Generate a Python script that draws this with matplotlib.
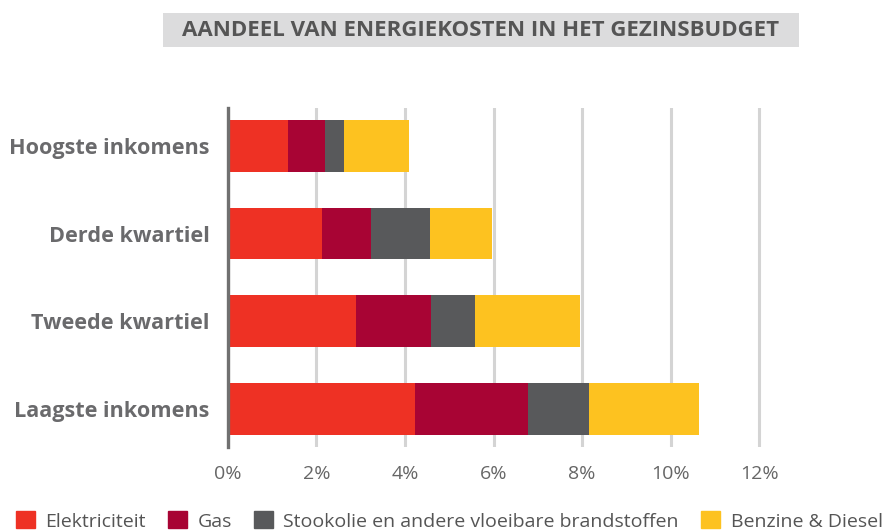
"""Aandeel van energiekosten in het gezinsbudget - stacked horizontal bars."""
import matplotlib
matplotlib.use("Agg")
import matplotlib.pyplot as plt
import matplotlib.patches as mpatches
import numpy as np

plt.rcParams["font.family"] = ["Open Sans", "DejaVu Sans"]

# ── data (share of household budget, %) ──────────────────────────────────────
categories = ["Hoogste inkomens", "Derde kwartiel", "Tweede kwartiel", "Laagste inkomens"]
elektriciteit = [1.36, 2.13, 2.90, 4.23]
gas = [0.83, 1.11, 1.68, 2.55]
stookolie = [0.43, 1.33, 1.00, 1.38]
benzine = [1.48, 1.40, 2.37, 2.48]

series = [
    ("Elektriciteit", elektriciteit, "#EE3124"),
    ("Gas", gas, "#A80434"),
    ("Stookolie en andere vloeibare brandstoffen", stookolie, "#58595B"),
    ("Benzine & Diesel", benzine, "#FDC220"),
]
xticks = [0, 2, 4, 6, 8, 10, 12]

fig = plt.figure(figsize=(8.9, 5.32), dpi=100)
ax = fig.add_axes([0.256, 0.160, 0.612, 0.637])

y = np.arange(len(categories))
left = np.zeros(len(categories))
for name, vals, color in series:
    ax.barh(y, vals, height=0.59, left=left, color=color, label=name,
            linewidth=0, zorder=3)
    left += np.array(vals)

ax.set_ylim(3.43, -0.43)
ax.set_xlim(0, 12.3)
ax.set_yticks(y)
ax.set_yticklabels(categories, fontsize=15.6, fontweight="bold", color="#6a6a6c")
ax.set_xticks(xticks)
ax.set_xticklabels([f"{t}%" for t in xticks], fontsize=14, color="#666666")
ax.tick_params(length=0)
ax.tick_params(axis="x", pad=13)
ax.tick_params(axis="y", pad=13)

ax.grid(axis="x", color="#d4d4d4", linewidth=2.2, zorder=1)
for s in ["top", "right", "bottom"]:
    ax.spines[s].set_visible(False)
ax.spines["left"].set_color("#707070")
ax.spines["left"].set_linewidth(2.4)
ax.spines["left"].set_zorder(4)

# ── title in grey box ────────────────────────────────────────────────────────
W, H = 890, 532
fig.patches.append(mpatches.Rectangle((163 / W, 1 - 47 / H), 636 / W, 34 / H,
                                      transform=fig.transFigure,
                                      facecolor="#dcdcdd", edgecolor="none"))
fig.text(481 / W, 1 - 30 / H, "AANDEEL VAN ENERGIEKOSTEN IN HET GEZINSBUDGET",
         ha="center", va="center", fontsize=16, fontweight="bold",
         color="#555555")

# ── legend ───────────────────────────────────────────────────────────────────
handles = [mpatches.Patch(color=c, label=n) for n, _, c in series]
fig.legend(handles=handles, loc="center", bbox_to_anchor=(0.505, 1 - 521 / H),
           ncol=4, frameon=False, fontsize=14, labelcolor="#555555",
           handlelength=0.95, handleheight=0.95, handletextpad=0.55,
           columnspacing=1.15, borderaxespad=0)

fig.savefig("out.png", dpi=100)
plt.close(fig)
